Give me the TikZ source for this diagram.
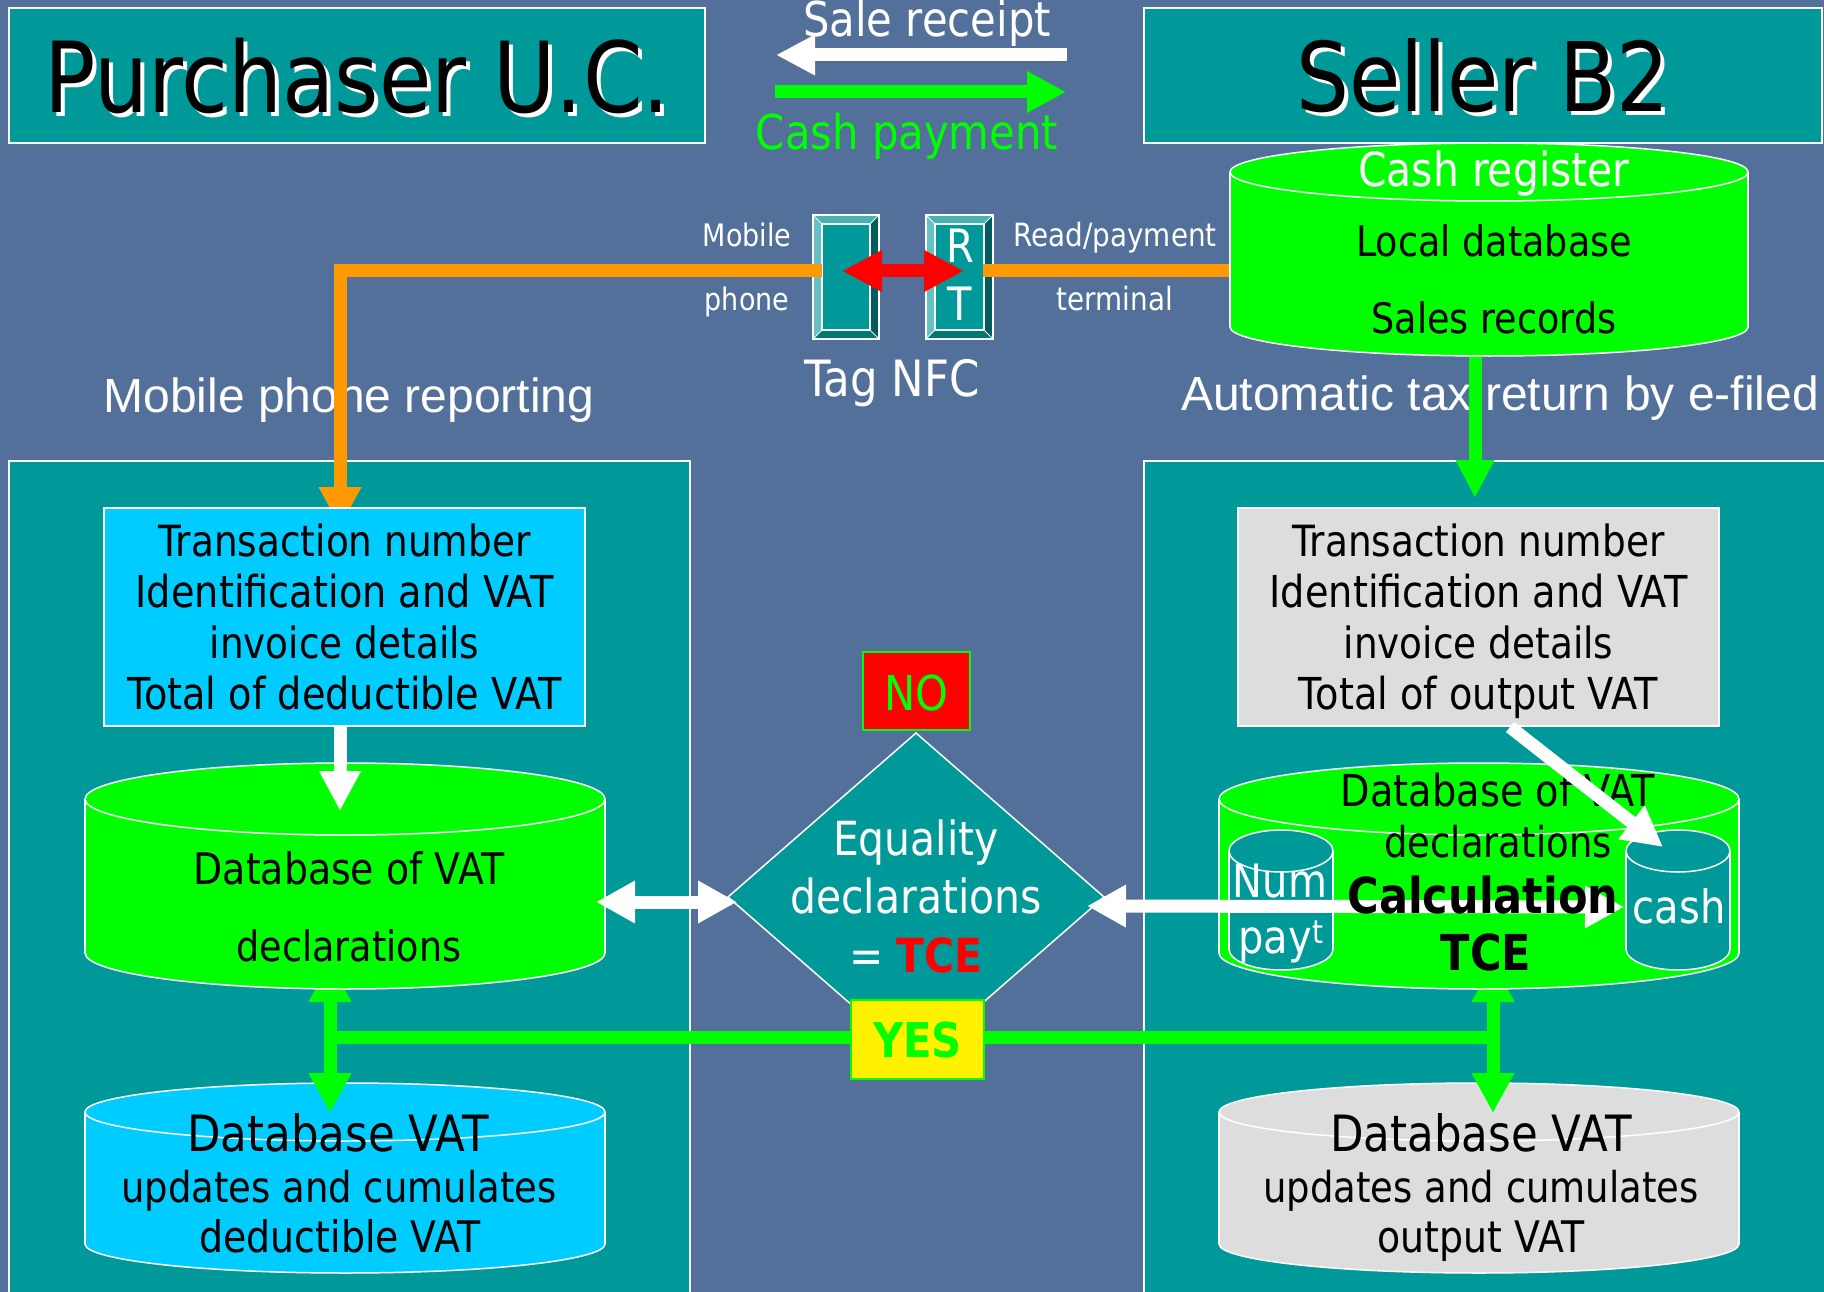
\documentclass[tikz,border=0pt]{standalone}
\usepackage{fontspec}
\setmainfont{DejaVu Sans}[FakeStretch=0.87]
\newfontfamily\arialf{Liberation Sans}
\usetikzlibrary{arrows.meta}
\definecolor{bgblue}{RGB}{82,112,153}
\definecolor{tealc}{RGB}{0,153,153}
\definecolor{lgreen}{RGB}{0,255,0}
\definecolor{lblue}{RGB}{0,204,255}
\definecolor{lgray}{RGB}{221,221,221}
\definecolor{orng}{RGB}{255,153,0}
\definecolor{bevlight}{RGB}{102,194,194}
\definecolor{bevtop}{RGB}{70,178,178}
\definecolor{bevdark}{RGB}{0,92,92}
\definecolor{bevbot}{RGB}{0,118,118}
\newcommand\fs[1]{\fontsize{#1}{#1}\selectfont}
\newcommand\cylshape[6]{%
  \pgfmathsetmacro\cylcx{(#1+#2)/2}\pgfmathsetmacro\cylrx{(#2-#1)/2}%
  \filldraw[fill=#6,draw=white,line width=1.5pt] (\cylcx,#4) circle[x radius=\cylrx,y radius=#5];
  \fill[#6] (#1,#3) rectangle (#2,#4);
  \draw[white,line width=1.5pt] (#1,#3) -- (#1,#4) (#2,#3) -- (#2,#4);
  \filldraw[fill=#6,draw=white,line width=1.5pt] (\cylcx,#3) circle[x radius=\cylrx,y radius=#5];
}
\newcommand\bevelbox[5]{%
  \fill[bevtop] (#1,#2) -- (#3,#2) -- (#3-#5,#2+#5) -- (#1+#5,#2+#5) -- cycle;
  \fill[bevlight] (#1,#2) -- (#1+#5,#2+#5) -- (#1+#5,#4-#5) -- (#1,#4) -- cycle;
  \fill[bevdark] (#3,#2) -- (#3,#4) -- (#3-#5,#4-#5) -- (#3-#5,#2+#5) -- cycle;
  \fill[bevbot] (#1,#4) -- (#3,#4) -- (#3-#5,#4-#5) -- (#1+#5,#4-#5) -- cycle;
  \fill[tealc] (#1+#5,#2+#5) rectangle (#3-#5,#4-#5);
  \draw[white,line width=1.2pt] (#1,#2) rectangle (#3,#4) (#1+#5,#2+#5) rectangle (#3-#5,#4-#5);
  \draw[white,line width=0.8pt] (#1,#2) -- (#1+#5,#2+#5) (#3,#2) -- (#3-#5,#2+#5) (#1,#4) -- (#1+#5,#4-#5) (#3,#4) -- (#3-#5,#4-#5);
}
\tikzset{
  txt/.style={anchor=base,inner sep=0pt},
  wtxt/.style={txt,text=white},
  btxt/.style={txt,text=black},
  hdrbox/.style={draw=white,fill=tealc,line width=1.5pt,inner sep=0pt},
  fat/.style={line width=13pt},
  btip/.tip={Triangle[length=40pt,width=40pt]},
}
\begin{document}
\begin{tikzpicture}[x=1pt,y=-1pt]
\fill[bgblue] (0,0) rectangle (1824,1292);
\useasboundingbox (0,0) rectangle (1824,1292);

% headers
\node[hdrbox,minimum width=696pt,minimum height=135pt] (purch) at (357,75.5) {};
\node[hdrbox,minimum width=678pt,minimum height=135pt] (seller) at (1483,75.5) {};
\node[wtxt] at (361,117) {\fs{98}Purchaser U.C.};
\node[btxt] (purchT) at (357,113) {\fs{98}Purchaser U.C.};
\node[wtxt] at (1487,116) {\fs{96}Seller B2};
\node[btxt] (sellerT) at (1483,112) {\fs{96}Seller B2};

% sale receipt / cash payment
\node[wtxt] (saleT) at (927,37) {\fs{48}Sale receipt};
\node[txt,text=lgreen] (cashT) at (907,150) {\fs{48}Cash payment};
\coordinate (srA) at (1067,55); \coordinate (srB) at (776,55);
\draw[white,fat,-{Triangle[length=39pt,width=38pt]}] (srA) -- (srB);
\coordinate (cpA) at (775,92); \coordinate (cpB) at (1066,92);
\draw[lgreen,fat,-{Triangle[length=39pt,width=39pt]}] (cpA) -- (cpB);

% panels
\draw[fill=tealc,draw=white,line width=1.5pt] (9,461) rectangle (690,1300);
\draw[fill=tealc,draw=white,line width=1.5pt] (1144,461) rectangle (1830,1300);

% side labels
\node[wtxt,font=\arialf\fs{48}] (mpr) at (349,412) {Mobile phone reporting};
\node[wtxt,font=\arialf\fs{48}] (atr) at (1500,410) {Automatic tax return by e-filed};

% green arrow from cash register
\coordinate (crBot) at (1475,330); \coordinate (grayTop) at (1475,498);
\draw[lgreen,fat,-{Triangle[length=38pt,width=36pt]}] (crBot) -- (grayTop);
% orange right
\coordinate (rtR) at (983,271); \coordinate (crL) at (1235,271);
\draw[orng,fat] (rtR) -- (crL);

% cash register
\cylshape{1230}{1748}{172}{327}{29}{lgreen}
\node[wtxt] (crT) at (1494,187) {\fs{47}Cash register};
\node[btxt] (crL1) at (1494,257) {\fs{42}Local database};
\node[btxt] (crL2) at (1494,333) {\fs{42}Sales records};

% NFC boxes
\bevelbox{813}{215}{879}{339}{9}
\bevelbox{926}{215}{993}{339}{9}
\coordinate (phoneL) at (822,271); \coordinate (corner) at (340,271); \coordinate (lboxTop) at (340,527);
\draw[orng,fat,line join=miter,-{btip}] (phoneL) -- (corner) -- (lboxTop);
\draw[orng,fat] (rtR) -- ++(12,0);
\node[wtxt] (R) at (960,263) {\fs{46}R};
\node[wtxt] (T) at (960,320) {\fs{46}T};
\coordinate (nfcA) at (842,271); \coordinate (nfcB) at (964,271);
\draw[red,fat,{Triangle[length=40pt,width=39pt]}-{Triangle[length=40pt,width=39pt]}] (nfcA) -- (nfcB);
\node[wtxt] (mob) at (747,247) {\fs{31}Mobile};
\node[wtxt] (pho) at (747,310) {\fs{31}phone};
\node[wtxt] (rp) at (1115,247) {\fs{32}Read/payment};
\node[wtxt] (term) at (1115,310) {\fs{32}terminal};
\node[wtxt] (tag) at (892,396) {\fs{50}Tag NFC};

% transaction boxes
\node[draw=white,fill=lblue,line width=1.5pt,minimum width=481pt,minimum height=218pt] (lbox) at (344.5,617) {};
\node[draw=white,fill=lgray,line width=1.5pt,minimum width=481pt,minimum height=218pt] (gbox) at (1478.5,617) {};
\foreach \bx/\last in {344.5/deductible,1478.5/output}{
  \node[btxt] at (\bx,556) {\fs{43}Transaction number};
  \node[btxt] at (\bx,607) {\fs{44}Identification and VAT};
  \node[btxt] at (\bx,658) {\fs{43}invoice details};
  \node[btxt] at (\bx,709) {\fs{44}Total of \last\ VAT};
}

% bottom cylinders
\cylshape{85}{605}{1112}{1244}{29}{lblue}
\cylshape{1219}{1739}{1112}{1244}{29}{lgray}
\node[btxt] (lb1) at (338,1151) {\fs{50}Database VAT};
\node[btxt] (lb2) at (339,1202) {\fs{42.5}updates and cumulates};
\node[btxt] (lb3) at (340,1252) {\fs{43.5}deductible VAT};
\node[btxt] (rb1) at (1481,1151) {\fs{50}Database VAT};
\node[btxt] (rb2) at (1481,1202) {\fs{42.5}updates and cumulates};
\node[btxt] (rb3) at (1481,1252) {\fs{43.5}output VAT};

% green connectors
\coordinate (lgUp) at (330,962); \coordinate (lgDn) at (330,1113);
\coordinate (rgUp) at (1493,962); \coordinate (rgDn) at (1493,1113);
\draw[lgreen,fat,{btip}-{btip}] (lgUp) -- (lgDn);
\draw[lgreen,fat,{btip}-{btip}] (rgUp) -- (rgDn);
\coordinate (hL) at (330,1037); \coordinate (hR) at (1493,1037);
\draw[lgreen,fat] (hL) -- (hR);

% left green cylinder
\cylshape{85}{605}{799}{953}{36}{lgreen}
\node[btxt] (ld1) at (349,884) {\fs{43.5}Database of VAT};
\node[btxt] (ld2) at (349,961) {\fs{42}declarations};
\coordinate (lboxBot) at (340,726); \coordinate (lcylTop) at (340,811);
\draw[white,fat,-{Triangle[length=40pt,width=39pt]}] (lboxBot) -- (lcylTop);

% diamond
\coordinate (dT) at (916,733); \coordinate (dR) at (1104,897);
\coordinate (dB) at (916,1061); \coordinate (dL) at (728,897);
\filldraw[fill=tealc,draw=white,line width=1.5pt] (dT) -- (dR) -- (dB) -- (dL) -- cycle;
\node[wtxt] (eq1) at (916,855) {\fs{47}Equality};
\node[wtxt] (eq2) at (916,913) {\fs{47}declarations};
\node[wtxt] (eq3) at (916,972) {\fs{47}= \textcolor{red}{\bfseries TCE}};
\node[draw=lgreen,fill=red,line width=2pt,minimum width=107pt,minimum height=78pt,inner sep=0pt] (nobox) at (916.5,691) {};
\node[txt,text=lgreen] (noT) at (916.5,710) {\fs{48}NO};
\node[draw=lgreen,fill=yellow,line width=2pt,minimum width=133pt,minimum height=79pt,inner sep=0pt] (yesbox) at (917.5,1039.5) {};
\node[txt,text=lgreen] (yesT) at (917.5,1057) {\fs{48}\bfseries YES};
\coordinate (laA) at (596,902); \coordinate (laB) at (737,902);
\draw[white,fat,{Triangle[length=39pt,width=40pt]}-{Triangle[length=39pt,width=40pt]}] (laA) -- (laB);

% right green cylinder
\cylshape{1219}{1739}{799}{953}{36}{lgreen}
\cylshape{1229}{1333}{851}{949}{21}{tealc}
\cylshape{1626}{1730}{851}{949}{21}{tealc}
\node[wtxt] (num) at (1280,897) {\fs{46}Num};
\node[wtxt] (pay) at (1281,953) {\fs{46}pay\textsuperscript{t}};
\node[wtxt] (cash) at (1679,923) {\fs{46}cash};
\coordinate (raA) at (1087,906); \coordinate (raB) at (1624,907);
\draw[white,fat,{Triangle[length=39pt,width=40pt]}-{Triangle[length=39pt,width=40pt]}] (raA) -- (raB);
\node[btxt] (rd1) at (1498,806) {\fs{44}Database of VAT};
\node[btxt] (rd2) at (1498,857) {\fs{42.5}declarations};
\node[btxt] (calc) at (1483,913) {\fs{49.5}\bfseries Calculation};
\node[btxt] (tce) at (1486,970) {\fs{49.5}\bfseries TCE};
\coordinate (gboxBot) at (1510,727); \coordinate (cashTop) at (1663,847);
\draw[white,fat,-{Triangle[length=40pt,width=40pt]}] (gboxBot) -- (cashTop);
\end{tikzpicture}
\end{document}
